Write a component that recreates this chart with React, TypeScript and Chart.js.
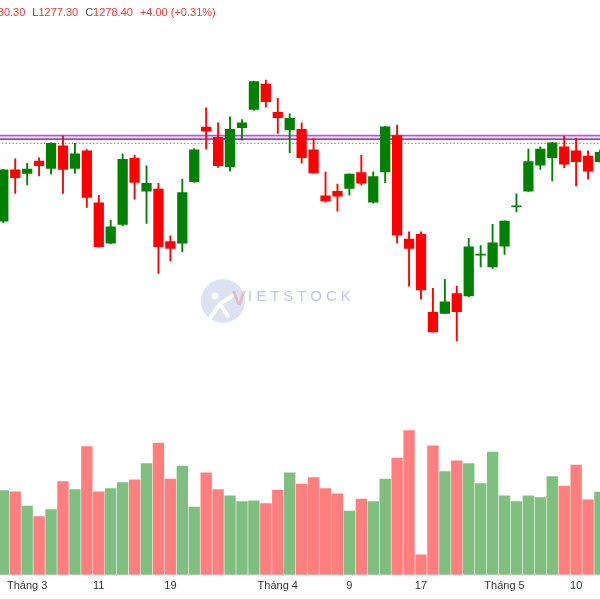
import React, { useEffect, useRef } from 'react';
import { Chart, registerables } from 'chart.js';

Chart.register(...registerables);

// ---- Data (2024 sessions) ----
const dates = ['28/02','29/02','01/03','04/03','05/03','06/03','07/03','08/03','11/03','12/03','13/03','14/03','15/03','18/03','19/03','20/03','21/03','22/03','25/03','26/03','27/03','28/03','29/03','01/04','02/04','03/04','04/04','05/04','08/04','09/04','10/04','11/04','12/04','15/04','16/04','17/04','19/04','22/04','23/04','24/04','25/04','26/04','02/05','03/05','06/05','07/05','08/05','09/05','10/05','13/05','14/05'];

const opens = [1256.9, 1272.9, 1271.8, 1275.7, 1273.4, 1280.4, 1273.4, 1278.9, 1262.6, 1250.0, 1255.9, 1276.5, 1266.3, 1266.9, 1250.5, 1250.0, 1269.2, 1286.3, 1283.1, 1273.9, 1286.1, 1291.8, 1299.7, 1290.9, 1285.4, 1285.6, 1279.2, 1264.8, 1266.2, 1267.1, 1272.1, 1262.8, 1272.3, 1283.6, 1251.3, 1252.8, 1228.4, 1228.1, 1234.3, 1233.5, 1246.3, 1242.6, 1249.1, 1261.4, 1266.3, 1274.4, 1276.7, 1280.1, 1278.9, 1277.2, 1275.5];
const highs = [1273.0, 1276.4, 1275.0, 1276.7, 1281.4, 1283.5, 1281.2, 1279.3, 1265.0, 1257.2, 1277.9, 1277.5, 1274.2, 1268.7, 1252.3, 1270.0, 1279.6, 1292.3, 1287.6, 1289.5, 1288.6, 1300.7, 1301.0, 1295.3, 1290.4, 1287.6, 1282.8, 1272.3, 1268.5, 1271.7, 1277.5, 1272.3, 1286.5, 1286.9, 1253.6, 1253.6, 1235.9, 1238.7, 1236.6, 1251.5, 1249.3, 1255.9, 1257.0, 1265.4, 1279.4, 1280.1, 1281.5, 1283.5, 1282.8, 1278.9, 1279.1];
const lows = [1256.4, 1265.6, 1268.2, 1271.0, 1271.6, 1265.6, 1271.8, 1261.2, 1248.8, 1249.9, 1255.5, 1263.8, 1256.2, 1240.6, 1244.5, 1247.3, 1269.0, 1279.4, 1273.7, 1272.5, 1282.2, 1291.6, 1292.5, 1284.3, 1278.3, 1275.0, 1271.9, 1262.8, 1260.0, 1265.0, 1268.2, 1262.5, 1268.9, 1250.0, 1236.6, 1232.5, 1222.2, 1228.0, 1219.5, 1233.3, 1242.6, 1242.1, 1246.5, 1259.8, 1266.2, 1273.1, 1269.5, 1273.6, 1267.9, 1270.0, 1275.3];
const closes = [1272.9, 1270.5, 1273.2, 1274.2, 1281.2, 1273.1, 1277.9, 1264.3, 1248.9, 1255.1, 1276.2, 1269.0, 1268.7, 1248.9, 1248.4, 1265.8, 1279.2, 1285.0, 1274.2, 1285.6, 1287.6, 1300.5, 1294.2, 1289.2, 1289.0, 1276.7, 1272.0, 1263.2, 1264.7, 1271.6, 1268.8, 1270.8, 1286.4, 1252.5, 1248.4, 1235.4, 1222.3, 1231.7, 1228.6, 1248.9, 1246.4, 1250.1, 1256.9, 1261.5, 1275.5, 1279.4, 1281.4, 1274.7, 1275.5, 1272.5, 1278.4];
const volumes = [253, 249, 206, 175, 196, 280, 256, 385, 249, 259, 277, 285, 334, 395, 287, 326, 203, 306, 256, 237, 220, 222, 214, 254, 306, 272, 292, 259, 243, 191, 227, 220, 287, 350, 433, 60, 387, 310, 342, 334, 274, 368, 237, 220, 237, 232, 295, 266, 329, 225, 248];

const tickIndexes = [2, 8, 14, 23, 29, 35, 42, 48];
const tickLabels = ['Tháng 3', '11', '19', 'Tháng 4', '9', '17', 'Tháng 5', '10'];

const levelLines = [1283.6, 1282.5];
const levelColors = ['#b952dc', '#8e45d2'];
const dottedLevel = 1281.2;

const headerLabels = ['O', 'H', 'L', 'C', ''];
const headerValues = ['1275.50', '1280.30', '1277.30', '1278.40', '+4.00 (+0.31%)'];

const UP = '#008000';
const DOWN = '#ff0000';
const UP_VOL = 'rgba(0,128,0,0.5)';
const DOWN_VOL = 'rgba(255,0,0,0.5)';

const watermarkPlugin = {
  id: 'watermark',
  beforeDatasetsDraw(chart: any) {
    const ctx = chart.ctx as CanvasRenderingContext2D;
    ctx.save();
    ctx.fillStyle = 'rgba(205,217,233,0.75)';
    ctx.beginPath();
    ctx.arc(223, 301, 22, 0, Math.PI * 2);
    ctx.fill();
    ctx.strokeStyle = 'rgba(255,255,255,0.95)';
    ctx.lineWidth = 4;
    ctx.lineCap = 'round';
    ctx.beginPath();
    ctx.moveTo(210, 318);
    ctx.lineTo(220, 304);
    ctx.lineTo(232, 296);
    ctx.moveTo(220, 304);
    ctx.lineTo(228, 316);
    ctx.stroke();
    ctx.fillStyle = 'rgba(255,255,255,0.95)';
    ctx.beginPath();
    ctx.arc(215, 296, 3.5, 0, Math.PI * 2);
    ctx.fill();
    ctx.textBaseline = 'alphabetic';
    ctx.font = 'bold 21px "Liberation Sans", Arial, sans-serif';
    ctx.fillStyle = 'rgba(244,150,160,0.55)';
    ctx.fillText('V', 232, 305);
    ctx.font = '15px "Liberation Sans", Arial, sans-serif';
    (ctx as any).letterSpacing = '4px';
    ctx.fillStyle = 'rgba(165,186,214,0.75)';
    ctx.fillText('IETSTOCK', 248, 301);
    ctx.restore();
  },
};

const headerPlugin = {
  id: 'header',
  afterDraw(chart: any) {
    const ctx = chart.ctx as CanvasRenderingContext2D;
    ctx.save();
    ctx.font = '11px "Liberation Sans", Arial, sans-serif';
    ctx.textBaseline = 'middle';
    ctx.textAlign = 'left';
    const gap = 7;
    const widths = headerLabels.map((l, i) => ctx.measureText(l).width + ctx.measureText(headerValues[i]).width);
    const xs: number[] = new Array(headerLabels.length).fill(0);
    xs[2] = 32.3;
    xs[1] = xs[2] - gap - widths[1];
    xs[0] = xs[1] - gap - widths[0];
    xs[3] = xs[2] + widths[2] + gap;
    xs[4] = xs[3] + widths[3] + gap;
    headerLabels.forEach((l, i) => {
      let x = xs[i];
      if (l) {
        ctx.fillStyle = '#4c4c4c';
        ctx.fillText(l, x, 13);
        x += ctx.measureText(l).width;
      }
      ctx.fillStyle = '#ef3a3a';
      ctx.fillText(headerValues[i], x, 13);
    });
    ctx.strokeStyle = '#dcdcdc';
    ctx.lineWidth = 1;
    ctx.beginPath();
    ctx.moveTo(0, 599.5);
    ctx.lineTo(600, 599.5);
    ctx.stroke();
    ctx.restore();
  },
};

export default function App() {
  const ref = useRef<HTMLCanvasElement>(null);

  useEffect(() => {
    const canvas = ref.current;
    if (!canvas) return;
    const up = closes.map((c, i) => c >= opens[i]);
    const candleColors = up.map((u) => (u ? UP : DOWN));
    const volColors = up.map((u) => (u ? UP_VOL : DOWN_VOL));

    const lineSets: any[] = levelLines.map((lv, i) => ({
      type: 'line',
      label: 'level ' + (i + 1),
      data: [{ x: -1, y: lv }, { x: dates.length, y: lv }],
      borderColor: levelColors[i],
      borderWidth: 1.8,
      pointRadius: 0,
      yAxisID: 'y',
      order: 5,
    }));
    lineSets.push({
      type: 'line',
      label: 'dotted',
      data: [{ x: -1, y: dottedLevel }, { x: dates.length, y: dottedLevel }],
      borderColor: '#ea7a55',
      borderWidth: 1.2,
      borderDash: [1.5, 2],
      pointRadius: 0,
      yAxisID: 'y',
      order: 5,
    });

    const chart = new Chart(canvas, {
      type: 'bar',
      data: {
        datasets: [
          {
            label: 'Khối lượng',
            data: volumes.map((v, i) => ({ x: i, y: v })),
            backgroundColor: volColors,
            barThickness: 10.7,
            grouped: false,
            yAxisID: 'yv',
            order: 4,
          } as any,
          ...lineSets,
          {
            label: 'wick',
            data: lows.map((l, i) => ({ x: i, y: [l, highs[i]] })),
            backgroundColor: candleColors,
            barThickness: 1.2,
            grouped: false,
            yAxisID: 'y',
            order: 2,
          } as any,
          {
            label: 'body',
            data: opens.map((o, i) => ({ x: i, y: [o, closes[i]] })),
            backgroundColor: candleColors,
            barThickness: 9.6,
            minBarLength: 1,
            grouped: false,
            yAxisID: 'y',
            order: 1,
          } as any,
        ],
      },
      options: {
        responsive: false,
        animation: false,
        layout: { padding: { left: 0, right: 0, top: 0, bottom: 2 } },
        plugins: {
          legend: { display: false },
          tooltip: { enabled: false },
        },
        scales: {
          x: {
            type: 'linear',
            min: -0.2765,
            max: 50,
            offset: false,
            grid: { display: false, drawTicks: false },
            border: { display: false },
            afterBuildTicks: (scale: any) => {
              scale.ticks = tickIndexes.map((v) => ({ value: v }));
            },
            ticks: {
              autoSkip: false,
              maxRotation: 0,
              padding: 5,
              color: '#333333',
              font: { family: '"Liberation Sans", Arial, sans-serif', size: 11 },
              callback: (_v: any, idx: number) => tickLabels[idx],
            },
          },
          y: { display: false, min: 1146.4, max: 1326.0 },
          yv: { display: false, min: 0, max: 1725 },
        },
      } as any,
      plugins: [watermarkPlugin, headerPlugin],
    });
    return () => chart.destroy();
  }, []);

  return (
    <div style={{ position: 'fixed', left: 0, top: 0, width: 600, height: 600, background: '#ffffff' }}>
      <canvas ref={ref} width={600} height={600} style={{ display: 'block' }} />
    </div>
  );
}
